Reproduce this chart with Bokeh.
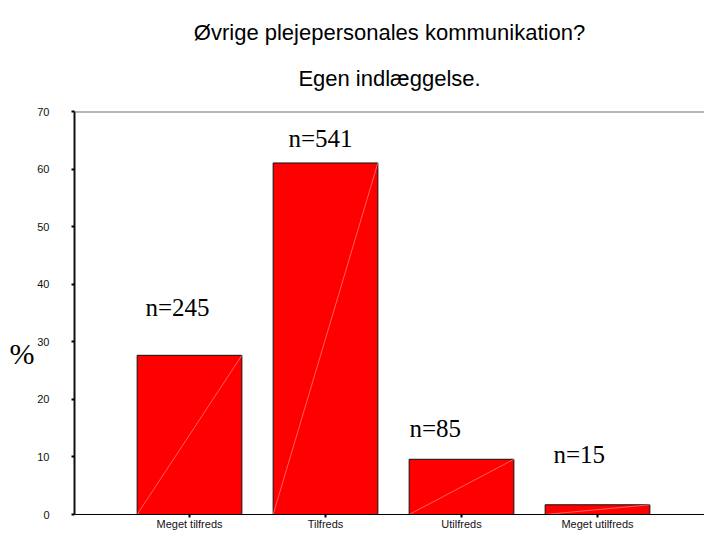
from bokeh.plotting import figure
from bokeh.models import (ColumnDataSource, FixedTicker, Span, Range1d, Title,
                          LinearAxis)
from bokeh.embed import file_html
from bokeh.resources import INLINE
from bokeh.core.properties import value

# ---- data ----
categories = ["Meget tilfreds", "Tilfreds", "Utilfreds", "Meget utilfreds"]
percent = [27.65, 61.06, 9.59, 1.69]
n_labels = ["n=245", "n=541", "n=85", "n=15"]
y_ticks = [0, 10, 20, 30, 40, 50, 60, 70]

title_1 = "Øvrige plejepersonales kommunikation?"
title_2 = "Egen indlæggelse."
y_label = "%"

# ---- styling / placement (not data) ----
bar_width = 0.77
lab_dx = [-44, -37, -52, -44]
lab_dy = [-48, -24, -31, -50]
y_label_pos = 28

xs = [i + 1 for i in range(len(categories))]
src = ColumnDataSource(dict(
    x=xs, pct=percent, lab=n_labels, dx=lab_dx, dy=lab_dy,
    x0=[x - bar_width / 2 for x in xs], x1=[x + bar_width / 2 for x in xs],
    y0=[0] * len(xs),
))

p = figure(width=704, height=535, output_backend="svg", toolbar_location=None,
           x_range=Range1d(0.1544, 4.7867), y_range=Range1d(0, 70),
           min_border_left=74, min_border_right=0, min_border_top=111,
           min_border_bottom=21)
p.title.visible = False
p.outline_line_color = None
p.xgrid.visible = False
p.ygrid.visible = False
p.background_fill_color = "white"

p.vbar(x="x", top="pct", width=bar_width, source=src,
       fill_color="#ff0000", line_color="#111111", line_width=1)
p.segment(x0="x0", y0="y0", x1="x1", y1="pct", source=src,
          line_color="#ff8a8a", line_width=0.7)

p.text(x="x", y="pct", text="lab", x_offset="dx", y_offset="dy", source=src,
       text_font=value("Liberation Serif"), text_font_size="25px",
       text_align="left", text_baseline="alphabetic", text_color="black")

p.add_layout(Span(location=70, dimension="width", line_color="#6e6e6e", line_width=2))

# axes
p.xaxis.ticker = FixedTicker(ticks=xs)
p.xaxis.major_label_overrides = {x: c for x, c in zip(xs, categories)}
p.xaxis.axis_line_color = "black"
p.xaxis.axis_line_width = 1
p.xaxis.major_tick_in = 0
p.xaxis.major_tick_out = 3
p.xaxis.major_tick_line_width = 2
p.xaxis.minor_tick_line_color = None
p.xaxis.major_label_standoff = 0
p.xaxis.major_label_text_font = "Liberation Sans"
p.xaxis.major_label_text_font_size = "11px"
p.xaxis.major_label_text_color = "#111111"

p.yaxis.ticker = FixedTicker(ticks=y_ticks)
p.yaxis.axis_line_color = "#111111"
p.yaxis.axis_line_width = 2
p.yaxis.major_tick_in = 0
p.yaxis.major_tick_out = 3
p.yaxis.major_tick_line_width = 2
p.yaxis.minor_tick_line_color = None
p.yaxis.major_label_standoff = 22
p.yaxis.major_label_text_font = "Liberation Sans"
p.yaxis.major_label_text_font_size = "11px"
p.yaxis.major_label_text_color = "#111111"

# "%" as a second, bare left axis carrying one label
pct_axis = LinearAxis(ticker=FixedTicker(ticks=[y_label_pos]),
                      major_label_overrides={y_label_pos: y_label})
pct_axis.axis_line_color = None
pct_axis.major_tick_line_color = None
pct_axis.minor_tick_line_color = None
pct_axis.major_tick_out = 0
pct_axis.major_tick_in = 0
pct_axis.major_label_standoff = 0
pct_axis.major_label_text_font = "Liberation Serif"
pct_axis.major_label_text_font_size = "30px"
pct_axis.major_label_text_color = "black"
p.add_layout(pct_axis, "left")

# titles (a tiny blank spacer nearest the frame, then the two lines)
spacer = Title(text=" ", text_font_size="1px", standoff=4)
t2 = Title(text=title_2, align="center", text_font="Liberation Sans",
           text_font_size="22px", text_font_style="normal", text_color="black",
           standoff=28)
t1 = Title(text=title_1, align="center", text_font="Liberation Sans",
           text_font_size="22px", text_font_style="normal", text_color="black",
           standoff=10)
p.add_layout(spacer, "above")
p.add_layout(t2, "above")
p.add_layout(t1, "above")

open("out.html", "w").write(file_html(p, INLINE))
